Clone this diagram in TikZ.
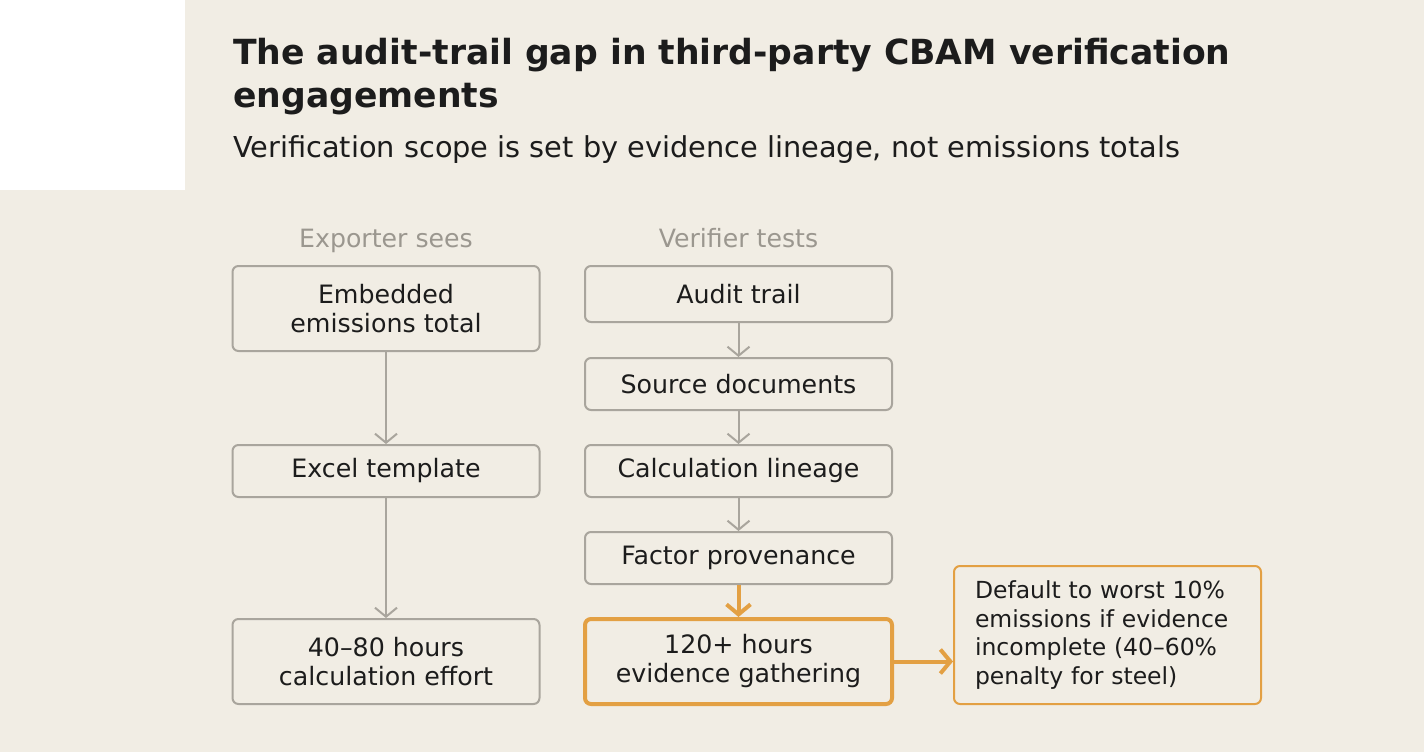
\documentclass[tikz,border=0pt]{standalone}
\usepackage{fontspec}
\setmainfont{DejaVu Sans}
\usetikzlibrary{arrows.meta}
\definecolor{paper}{HTML}{F1EDE4}
\definecolor{ink}{HTML}{1C1C1C}
\definecolor{muted}{HTML}{9B978F}
\definecolor{edge}{HTML}{A9A59D}
\definecolor{amber}{HTML}{E3A043}
\tikzset{
  stepbox/.style={draw=edge, line width=2pt, rounded corners=6pt, minimum width=307pt,
    align=center, text=ink, font=\fontsize{25.3}{29}\selectfont, inner sep=0pt},
  hotbox/.style={stepbox, draw=amber, line width=4pt},
  notebox/.style={draw=amber, line width=2pt, rounded corners=6pt, minimum width=307pt,
    minimum height=138pt, text width=265pt, align=left, text=ink, font=\fontsize{23.5}{28.5}\selectfont, inner sep=0pt},
  colhead/.style={text=muted, font=\fontsize{25.2}{30}\selectfont, anchor=base},
  flow/.style={draw=edge, line width=2pt, -{Straight Barb[length=9pt,width=22pt]}},
  hotflow/.style={draw=amber, line width=4pt, -{Straight Barb[length=10pt,width=24pt]}}
}
\begin{document}
\begin{tikzpicture}[x=1pt, y=-1pt]
  \fill[paper] (0,0) rectangle (1424,752);
  \fill[white] (0,0) rectangle (185,190);

  % heading
  \node[anchor=base west, inner sep=0pt, text=ink, font=\fontsize{34.6}{42}\selectfont\bfseries]
    (title) at (233,65) {The audit-trail gap in third-party CBAM verification};
  \node[anchor=base west, inner sep=0pt, text=ink, font=\fontsize{34.6}{42}\selectfont\bfseries]
    (titlecont) at (233,107) {engagements};
  \node[anchor=base west, inner sep=0pt, text=ink, font=\fontsize{28.8}{34}\selectfont]
    (subtitle) at (233,157.5) {Verification scope is set by evidence lineage, not emissions totals};

  % exporter column
  \node[colhead] (exphead) at (386,247) {Exporter sees};
  \node[stepbox, minimum height=85pt] (total) at (386,308.5) {Embedded\\emissions total};
  \node[stepbox, minimum height=52pt] (excel) at (386,471) {Excel template};
  \node[stepbox, minimum height=85pt] (calc) at (386,661.5) {40--80 hours\\calculation effort};

  % verifier column
  \node[colhead] (verhead) at (738.5,247) {Verifier tests};
  \node[stepbox, minimum height=56pt] (trail) at (738.5,294) {Audit trail};
  \node[stepbox, minimum height=52pt] (source) at (738.5,384) {Source documents};
  \node[stepbox, minimum height=52pt] (lineage) at (738.5,471) {Calculation lineage};
  \node[stepbox, minimum height=52pt] (factor) at (738.5,558) {Factor provenance};
  \node[hotbox, minimum height=85pt] (gather) at (738.5,661.5) {120+ hours\\evidence gathering};

  \node[notebox] (penalty) at (1107.5,635) {Default to worst 10\%\\emissions if evidence\\incomplete (40--60\%\\penalty for steel)};

  \draw[flow] (total) -- (excel);
  \draw[flow] (excel) -- (calc);
  \draw[flow] (trail) -- (source);
  \draw[flow] (source) -- (lineage);
  \draw[flow] (lineage) -- (factor);
  \draw[hotflow] (factor) -- (gather);
  \draw[hotflow] (gather.east) -- (gather.east -| penalty.west);
\end{tikzpicture}
\end{document}
